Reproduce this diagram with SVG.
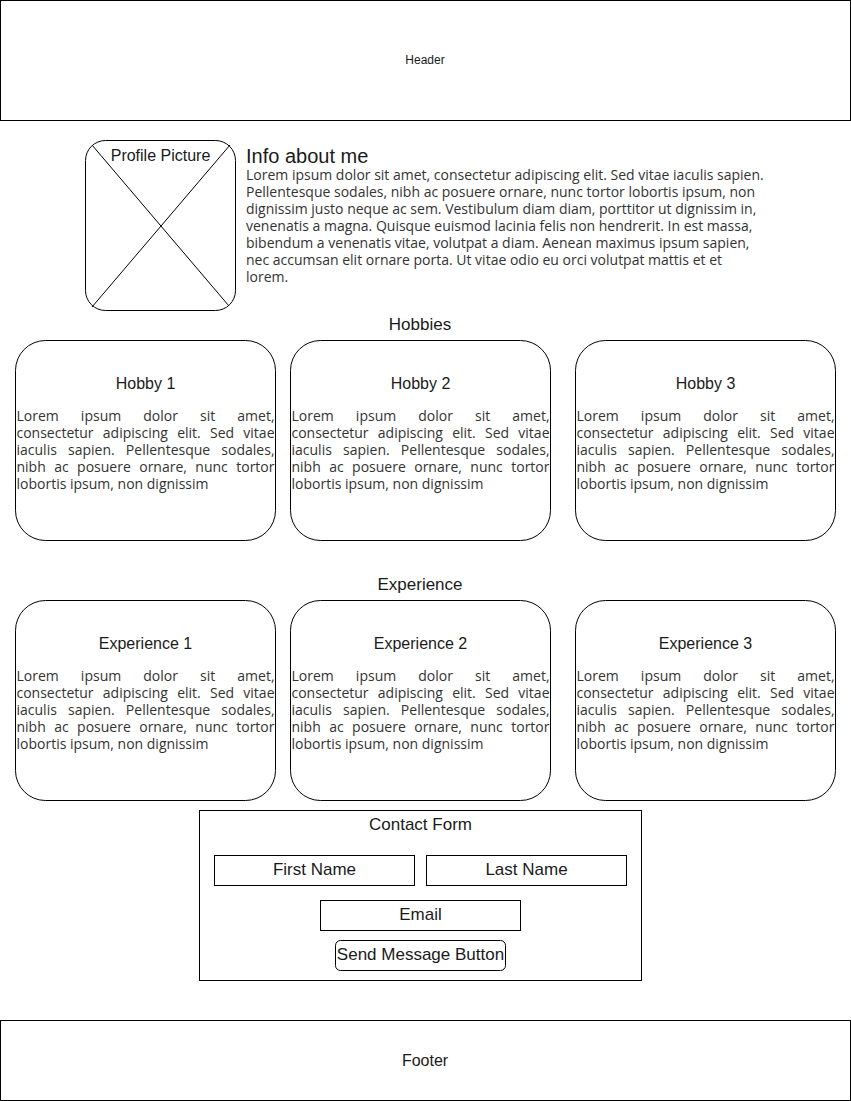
<svg xmlns="http://www.w3.org/2000/svg" width="851" height="1101" viewBox="0 0 851 1101">
<style>
.box{fill:#fff;stroke:#000;stroke-width:1}
.ln{stroke:#000;stroke-width:1}
.t{font-family:"Liberation Sans",Arial,sans-serif;fill:#1a1a1a;text-anchor:middle}
.p{font-family:"Open Sans","DejaVu Sans",sans-serif;font-size:14px;fill:#333}
.f16{font-size:16px}
.f17{font-size:17px}
</style>
<rect width="851" height="1101" fill="#fff"/>
<g id="header">
<rect class="box" x="0.5" y="0.5" width="850" height="120"/>
<text class="t" x="425" y="64" font-size="12">Header</text>
</g>
<g id="profile-picture">
<rect class="box" x="85.5" y="140.5" width="150" height="170" rx="20" ry="20"/>
<line class="ln" x1="92" y1="145" x2="229" y2="306"/>
<line class="ln" x1="230" y1="145" x2="92" y2="307"/>
<text class="t f16" x="160.5" y="161">Profile Picture</text>
</g>
<g id="info-about-me">
<text class="t" x="246" y="163" font-size="20" style="text-anchor:start">Info about me</text>
<text class="p" x="246" y="180">Lorem ipsum dolor sit amet, consectetur adipiscing elit. Sed vitae iaculis sapien.</text>
<text class="p" x="246" y="197">Pellentesque sodales, nibh ac posuere ornare, nunc tortor lobortis ipsum, non</text>
<text class="p" x="246" y="214">dignissim justo neque ac sem. Vestibulum diam diam, porttitor ut dignissim in,</text>
<text class="p" x="246" y="231">venenatis a magna. Quisque euismod lacinia felis non hendrerit. In est massa,</text>
<text class="p" x="246" y="248">bibendum a venenatis vitae, volutpat a diam. Aenean maximus ipsum sapien,</text>
<text class="p" x="246" y="265">nec accumsan elit ornare porta. Ut vitae odio eu orci volutpat mattis et et</text>
<text class="p" x="246" y="282">lorem.</text>
</g>
<defs>
<g id="lorem">
<text class="p" x="0" y="0" word-spacing="18.4" textLength="258" lengthAdjust="spacing">Lorem ipsum dolor sit amet,</text>
<text class="p" x="0" y="17" word-spacing="5.6" textLength="258" lengthAdjust="spacing">consectetur adipiscing elit. Sed vitae</text>
<text class="p" x="0" y="34" word-spacing="7.5" textLength="258" lengthAdjust="spacing">iaculis sapien. Pellentesque sodales,</text>
<text class="p" x="0" y="51" word-spacing="4.8" textLength="258" lengthAdjust="spacing">nibh ac posuere ornare, nunc tortor</text>
<text class="p" x="0" y="68">lobortis ipsum, non dignissim</text>
</g>
</defs>
<g id="hobbies-title">
<text class="t f17" x="420" y="330">Hobbies</text>
</g>
<g id="hobby-1">
<rect class="box" x="15.5" y="340.5" width="260" height="200" rx="30" ry="30"/>
<text class="t f16" x="145.5" y="389">Hobby 1</text>
<use href="#lorem" x="16.5" y="421"/>
</g>
<g id="hobby-2">
<rect class="box" x="290.5" y="340.5" width="260" height="200" rx="30" ry="30"/>
<text class="t f16" x="420.5" y="389">Hobby 2</text>
<use href="#lorem" x="291.5" y="421"/>
</g>
<g id="hobby-3">
<rect class="box" x="575.5" y="340.5" width="260" height="200" rx="30" ry="30"/>
<text class="t f16" x="705.5" y="389">Hobby 3</text>
<use href="#lorem" x="576.5" y="421"/>
</g>
<g id="experience-title">
<text class="t f17" x="420" y="590">Experience</text>
</g>
<g id="experience-1">
<rect class="box" x="15.5" y="600.5" width="260" height="200" rx="30" ry="30"/>
<text class="t f16" x="145.5" y="649">Experience 1</text>
<use href="#lorem" x="16.5" y="681"/>
</g>
<g id="experience-2">
<rect class="box" x="290.5" y="600.5" width="260" height="200" rx="30" ry="30"/>
<text class="t f16" x="420.5" y="649">Experience 2</text>
<use href="#lorem" x="291.5" y="681"/>
</g>
<g id="experience-3">
<rect class="box" x="575.5" y="600.5" width="260" height="200" rx="30" ry="30"/>
<text class="t f16" x="705.5" y="649">Experience 3</text>
<use href="#lorem" x="576.5" y="681"/>
</g>
<g id="contact-form">
<rect class="box" x="199.5" y="810.5" width="442" height="170"/>
<text class="t f17" x="420.5" y="830">Contact Form</text>
</g>
<g id="first-name">
<rect class="box" x="214.5" y="855.5" width="200" height="30"/>
<text class="t f17" x="314.5" y="875">First Name</text>
</g>
<g id="last-name">
<rect class="box" x="426.5" y="855.5" width="200" height="30"/>
<text class="t f17" x="526.5" y="875">Last Name</text>
</g>
<g id="email">
<rect class="box" x="320.5" y="900.5" width="200" height="30"/>
<text class="t f17" x="420.5" y="920">Email</text>
</g>
<g id="send-button">
<rect class="box" x="335.5" y="940.5" width="170" height="30" rx="5" ry="5"/>
<text class="t f17" x="420.5" y="960">Send Message Button</text>
</g>
<g id="footer">
<rect class="box" x="0.5" y="1020.5" width="850" height="80"/>
<text class="t f16" x="425" y="1066">Footer</text>
</g>
</svg>
